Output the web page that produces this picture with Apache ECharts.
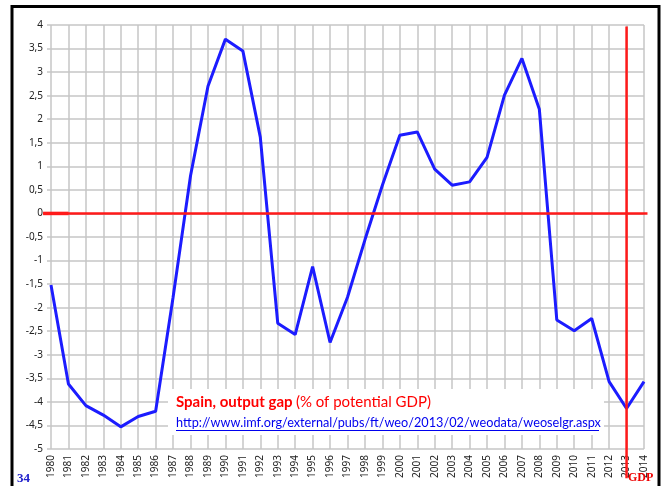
<!DOCTYPE html>
<html lang="es">
<head>
    <meta charset="UTF-8">
    <title>Spain, output gap</title>
    <script src="https://cdn.jsdelivr.net/npm/echarts@6/dist/echarts.min.js"></script>
    <style>
        html, body { margin: 0; padding: 0; background: #fff; }
        #chart { width: 667px; height: 486px; }
    </style>
</head>
<body>
<div id="chart"></div>
<script>
    // datos (FMI, WEO abril 2013)
    var years = [1980, 1981, 1982, 1983, 1984, 1985, 1986, 1987, 1988, 1989,
                 1990, 1991, 1992, 1993, 1994, 1995, 1996, 1997, 1998, 1999,
                 2000, 2001, 2002, 2003, 2004, 2005, 2006, 2007, 2008, 2009,
                 2010, 2011, 2012, 2013, 2014];
    var outputGap = [-1.52, -3.62, -4.08, -4.28, -4.53, -4.31, -4.2, -1.78, 0.8, 2.7,
                     3.7, 3.45, 1.62, -2.33, -2.57, -1.13, -2.74, -1.78, -0.56, 0.6,
                     1.66, 1.73, 0.94, 0.6, 0.67, 1.19, 2.51, 3.29, 2.21, -2.26,
                     -2.49, -2.23, -3.57, -4.14, -3.57];
    var markYear = 2013;

    var chart = echarts.init(document.getElementById('chart'));

    var lineData = [];
    for (var i = 0; i < years.length; i++) {
        lineData.push([years[i], outputGap[i]]);
    }

    var option = {
        backgroundColor: '#fff',
        animation: false,
        grid: { left: 51, right: 23, top: 25, bottom: 37 },
        xAxis: {
            type: 'value',
            min: 1980,
            max: 2014,
            interval: 1,
            axisLine: { show: true, lineStyle: { color: '#c6c6c6', width: 1.5 } },
            axisTick: { show: false },
            axisLabel: {
                rotate: 90,
                margin: 6,
                fontFamily: 'Noto Sans',
                fontSize: 10,
                color: '#222',
                formatter: function (v) { return String(v); }
            },
            splitLine: { show: true, lineStyle: { color: '#c6c6c6', width: 1.5 } }
        },
        yAxis: {
            type: 'value',
            min: -5,
            max: 4,
            interval: 0.5,
            axisLine: { show: false },
            axisTick: { show: true, length: 4, lineStyle: { color: '#c6c6c6', width: 1.5 } },
            axisLabel: {
                margin: 8,
                fontFamily: 'Noto Sans',
                fontSize: 10,
                color: '#222',
                formatter: function (v) { return String(v).replace('.', ','); }
            },
            splitLine: { show: true, lineStyle: { color: '#c6c6c6', width: 1.5 } }
        },
        series: [{
            type: 'line',
            data: lineData,
            symbol: 'none',
            lineStyle: { color: '#1c1cff', width: 3 },
            z: 3
        }],
        graphic: [
            {
                id: 'frame',
                type: 'rect',
                shape: { x: 12, y: 6.5, width: 647, height: 520 },
                style: { fill: 'none', stroke: '#000', lineWidth: 3 },
                z: 10
            },
            {
                id: 'noteBox',
                type: 'rect',
                shape: { x: 168, y: 389, width: 436, height: 46 },
                style: { fill: '#fff' },
                z: 5
            },
            {
                id: 'noteTitle',
                type: 'text',
                x: 176,
                y: 395,
                style: {
                    text: '{b|Spain, output gap} {r|(% of potential GDP)}',
                    rich: {
                        b: { fontFamily: 'Lato', fontWeight: 'bold', fontSize: 15, fill: '#ff0000' },
                        r: { fontFamily: 'Lato', fontSize: 15, fill: '#ff0000' }
                    }
                },
                z: 6
            },
            {
                id: 'noteUrl',
                type: 'text',
                x: 176,
                y: 416,
                style: {
                    text: 'http://www.imf.org/external/pubs/ft/weo/2013/02/weodata/weoselgr.aspx',
                    fontFamily: 'Lato',
                    fontSize: 12.7,
                    fill: '#0000ee'
                },
                z: 6
            },
            {
                id: 'noteUnderline',
                type: 'rect',
                shape: { x: 176, y: 430, width: 423, height: 1 },
                style: { fill: '#0000ee' },
                z: 6
            },
            {
                id: 'pageNum',
                type: 'text',
                x: 17,
                y: 472,
                style: {
                    text: '34',
                    fontFamily: 'Liberation Serif',
                    fontWeight: 'bold',
                    fontSize: 13,
                    fill: '#2020cc'
                },
                z: 6
            },
            {
                id: 'gdpTag',
                type: 'text',
                x: 628,
                y: 472,
                style: {
                    text: 'GDP',
                    fontFamily: 'Liberation Serif',
                    fontWeight: 'bold',
                    fontSize: 12,
                    fill: '#ee0000'
                },
                z: 6
            }
        ]
    };

    chart.setOption(option);

    // lineas rojas (cero y año 2013), un poco fuera de la rejilla como en el original
    function px(x, y) {
        return chart.convertToPixel({ gridIndex: 0 }, [x, y]);
    }
    var h0 = px(1979.55, 0), h1 = px(2014.2, 0);
    var v0 = px(markYear, 3.97), v1 = px(markYear, -5.62);
    chart.setOption({
        graphic: [
            {
                id: 'zeroLine',
                type: 'line',
                shape: { x1: h0[0], y1: h0[1], x2: h1[0], y2: h1[1] },
                style: { stroke: '#ff1a1a', lineWidth: 2.5 },
                z: 4
            },
            {
                id: 'zeroLineStart',
                type: 'line',
                shape: { x1: h0[0], y1: h0[1], x2: px(1981, 0)[0], y2: h0[1] },
                style: { stroke: '#ff1a1a', lineWidth: 3.5 },
                z: 4
            },
            {
                id: 'yearLine',
                type: 'line',
                shape: { x1: v0[0], y1: v0[1], x2: v1[0], y2: v1[1] },
                style: { stroke: '#ff1a1a', lineWidth: 2.5 },
                z: 4
            }
        ]
    });
</script>
</body>
</html>
